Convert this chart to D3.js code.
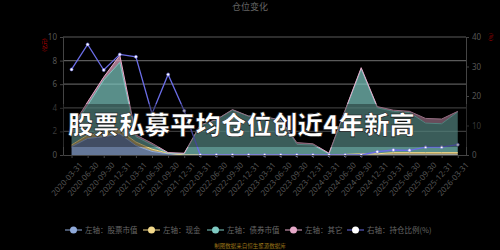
<!DOCTYPE html>
<html>
<head>
<meta charset="utf-8">
<script src="https://cdn.jsdelivr.net/npm/d3@7"></script>
<style>
body { margin: 0; background: #000; }
svg { display: block; }
</style>
</head>
<body>
<div id="chart"></div>
<script>
var dates = ["2020-03-31","2020-06-30","2020-09-30","2020-12-31","2021-03-31","2021-06-30","2021-09-30","2021-12-31",
  "2022-03-31","2022-06-30","2022-09-30","2022-12-31","2023-03-31","2023-06-30","2023-09-30","2023-12-31",
  "2024-03-31","2024-06-30","2024-09-30","2024-12-31","2025-03-31","2025-06-30","2025-09-30","2025-12-31","2026-03-31"]

// left axis (亿元), stacked
var stockVal = [0.7,1.4,1.55,1.8,0.8,0.3,0.1,0, 0,0,0,0,0,0,0,0, 0,0,0,0,0,0,0,0,0]
var cashVal  = [0.15,0.3,0.3,0.3,0.3,0.2,0.05,0, 0,0,0,0,0,0,0,0, 0,0.05,0.1,0.1,0.2,0.2,0.2,0.2,0.2]
var bondVal  = [1.35,2.5,4.5,5.75,0.45,0.35,0,0.1, 2.5,3.0,3.8,3.3,3.2,3.0,0.9,0.85, 0.1,3.7,7.2,3.9,3.5,3.4,2.5,2.45,3.45]
var otherVal = [0.1,0.3,0.25,0.6,0.15,0.15,0.05,0.05, 0.05,0,0.05,0,0,0,0.15,0.1, 0.05,0.05,0.1,0.1,0.1,0.1,0.4,0.4,0.05]
// right axis (%)
var ratioVal = [29,37.5,28.8,34.1,33.3,14,27.3,15, 0,0,0,0,0,0,0,0, 0,0,0,1.1,1.7,1.6,2.7,2.7,3.5]

var leftTicks = [0,2,4,6,8,10]
var rightTicks = [0,10,20,30,40]

var seriesNames = ["左轴：股票市值","左轴：现金","左轴：债券市值","左轴：其它"]
var seriesColors = ["#8fa9d9","#f3d98b","#7fcac3","#e5a8c8"]
var lineName = "右轴：持仓比例(%)"
var lineColor = "#6b6de6"

var W = 500, H = 250
var svg = d3.select("#chart").append("svg").attr("width", W).attr("height", H)

var x = d3.scalePoint().domain(dates).range([63.5, 465.8]).padding(0.5)
var yL = d3.scaleLinear().domain([0, 10]).range([155, 37])
var yR = d3.scaleLinear().domain([0, 40]).range([155, 37])

// title
svg.append("text").attr("x", 250).attr("y", 10).attr("text-anchor", "middle")
  .style("font-family", "Noto Sans CJK SC").style("font-size", "9px").attr("fill", "#666").text("仓位变化")

// gridlines
svg.selectAll(".grid").data(leftTicks.slice(1)).enter().append("line")
  .attr("x1", 63).attr("x2", 466)
  .attr("y1", function(d){return yL(d)}).attr("y2", function(d){return yL(d)})
  .attr("stroke", "#5a5a5a").attr("stroke-width", 1.2)

// stacked areas
var table = dates.map(function(d, i){
  return {date: d, s0: stockVal[i], s1: cashVal[i], s2: bondVal[i], s3: otherVal[i]}
})
var stack = d3.stack().keys(["s0","s1","s2","s3"])(table)

var area = d3.area()
  .x(function(d){return x(d.data.date)})
  .y0(function(d){return yL(d[0])})
  .y1(function(d){return yL(d[1])})

var topLine = d3.line()
  .x(function(d){return x(d.data.date)})
  .y(function(d){return yL(d[1])})

svg.selectAll(".layer").data(stack).enter().append("path")
  .attr("class", "layer")
  .attr("d", area)
  .attr("fill", function(d,i){return seriesColors[i]})
  .attr("fill-opacity", 0.7)

svg.selectAll(".layerline").data(stack).enter().append("path")
  .attr("d", topLine)
  .attr("fill", "none")
  .attr("stroke", function(d,i){return seriesColors[i]})
  .attr("stroke-width", 1)

// ratio line
var rline = d3.line().x(function(d,i){return x(dates[i])}).y(function(d){return yR(d)})
svg.append("path").datum(ratioVal).attr("d", rline)
  .attr("fill", "none").attr("stroke", lineColor).attr("stroke-width", 1.3)
svg.selectAll(".dot").data(ratioVal).enter().append("circle")
  .attr("cx", function(d,i){return x(dates[i])})
  .attr("cy", function(d){return yR(d)})
  .attr("r", 1.5).attr("fill", "#fff").attr("stroke", lineColor).attr("stroke-width", 0.6)

// axes
var axL = svg.append("g").attr("transform", "translate(63,0)")
  .call(d3.axisLeft(yL).tickValues(leftTicks).tickSize(3).tickPadding(3))
var axR = svg.append("g").attr("transform", "translate(466,0)")
  .call(d3.axisRight(yR).tickValues(rightTicks).tickSize(3).tickPadding(3))
var axB = svg.append("g").attr("transform", "translate(0,155)")
  .call(d3.axisBottom(x).tickSize(3).tickSizeOuter(0))

;[axL, axR, axB].forEach(function(a){
  a.select(".domain").attr("stroke", "#444")
  a.selectAll(".tick line").attr("stroke", "#444")
  a.selectAll("text").attr("fill", "#555").style("font-family", "Noto Sans").style("font-size", "8px")
})
axB.selectAll("text")
  .attr("text-anchor", "end")
  .attr("transform", "translate(4,2) rotate(-48)")
  .attr("dy", "0.6em").attr("dx", "-0.2em")

svg.append("text").attr("transform", "translate(46,45) rotate(-90)")
  .attr("text-anchor", "middle").attr("fill", "#c00000")
  .style("font-family", "Noto Sans CJK SC").style("font-size", "5px").text("(亿元)")
svg.append("text").attr("transform", "translate(489,37) rotate(90)")
  .attr("text-anchor", "middle").attr("fill", "#c00000")
  .style("font-family", "Noto Sans CJK SC").style("font-size", "5px").text("(%)")

// legend
var legendX = [65, 143, 207, 285, 347]
var legendItems = seriesNames.map(function(n,i){return {name: n, color: seriesColors[i]}})
legendItems.push({name: lineName, color: lineColor, dotFill: "#fff"})
var lg = svg.selectAll(".legend").data(legendItems).enter().append("g")
  .attr("transform", function(d,i){return "translate(" + legendX[i] + ",230)"})
lg.append("line").attr("x1", 0).attr("x2", 17).attr("stroke", function(d){return d.color}).attr("stroke-width", 1)
lg.append("circle").attr("cx", 8.5).attr("r", 3.5)
  .attr("fill", function(d){return d.dotFill || d.color})
lg.append("text").attr("x", 20).attr("dy", "0.35em")
  .attr("fill", "#666").style("font-family", "Noto Sans CJK SC").style("font-size", "7.5px")
  .text(function(d){return d.name})

// footer
svg.append("text").attr("x", 250).attr("y", 248).attr("text-anchor", "middle")
  .attr("fill", "#9a7418").style("font-family", "Noto Sans CJK SC").style("font-size", "5.5px")
  .text("制图数据来自恒生聚源数据库")

// headline overlay
svg.append("rect").attr("x", 0).attr("y", 104).attr("width", W).attr("height", 43)
  .attr("fill", "#000").attr("fill-opacity", 0.35)
svg.append("text").attr("x", 68).attr("y", 134)
  .attr("fill", "#fff").attr("stroke", "#111").attr("stroke-width", 0.6)
  .style("font-family", "Noto Sans CJK SC").style("font-weight", "900")
  .style("font-size", "25.5px").text("股票私募平均仓位创近4年新高")
</script>
</body>
</html>
